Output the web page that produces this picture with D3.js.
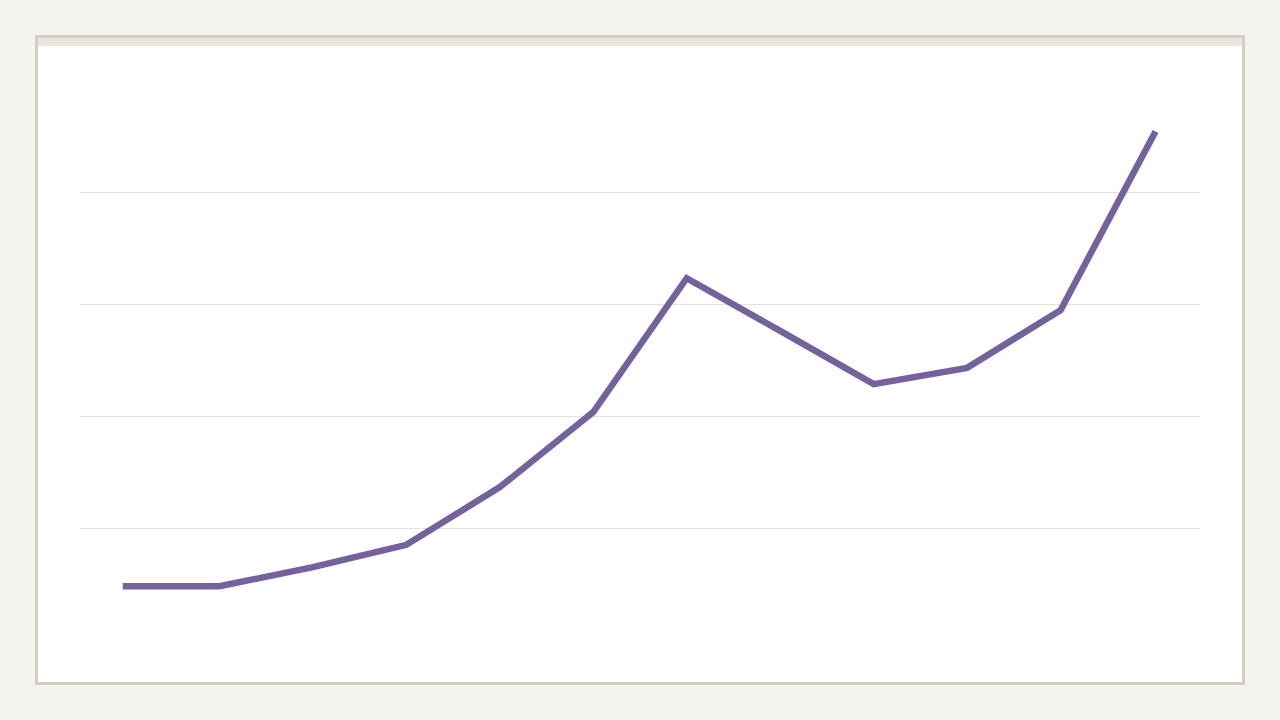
<!DOCTYPE html>
<meta charset="utf-8">
<style>
    body { margin: 0; background: #f4f3ee; }
    .grid line { stroke: #e2e2d6; stroke-width: 1px; shape-rendering: crispEdges; }
    .grid path { stroke-width: 0; }
    .line { fill: none; stroke: #74629d; stroke-width: 6.5px; stroke-linejoin: miter; stroke-linecap: square; }
</style>
<body>
<script src="https://cdnjs.cloudflare.com/ajax/libs/d3/7.8.5/d3.min.js"></script>
<script>
    // data
    var periods = [1, 2, 3, 4, 5, 6, 7, 8, 9, 10, 11, 12];
    var values = [9.6, 9.6, 13.0, 17.0, 27.3, 40.7, 64.6, 55.2, 45.7, 48.6, 58.9, 90.3];
    var gridTicks = [20, 40, 60, 80];

    var W = 1280, H = 720;

    var svg = d3.select("body").append("svg")
        .attr("width", W)
        .attr("height", H);

    svg.append("rect").attr("width", W).attr("height", H).attr("fill", "#f4f3ee");

    // card frame
    svg.append("rect")
        .attr("x", 36.5).attr("y", 36.5)
        .attr("width", 1207).attr("height", 647)
        .attr("fill", "#fff")
        .attr("stroke", "#d2cec5").attr("stroke-width", 3);
    svg.append("rect")
        .attr("x", 38).attr("y", 38)
        .attr("width", 1204).attr("height", 8)
        .attr("fill", "#eae6dc");

    var x = d3.scalePoint().domain(periods).range([126, 1154]);
    var y = d3.scaleLinear().domain([0, 100]).range([640, 80]);

    // horizontal gridlines
    svg.append("g")
        .attr("class", "grid")
        .attr("transform", "translate(80,0)")
        .call(d3.axisLeft(y).tickValues(gridTicks).tickSize(-1120).tickFormat(""));

    var line = d3.line()
        .x(function(d, i) { return x(periods[i]); })
        .y(function(d) { return y(d); });

    svg.append("path")
        .datum(values)
        .attr("class", "line")
        .attr("d", line);
</script>
</body>
